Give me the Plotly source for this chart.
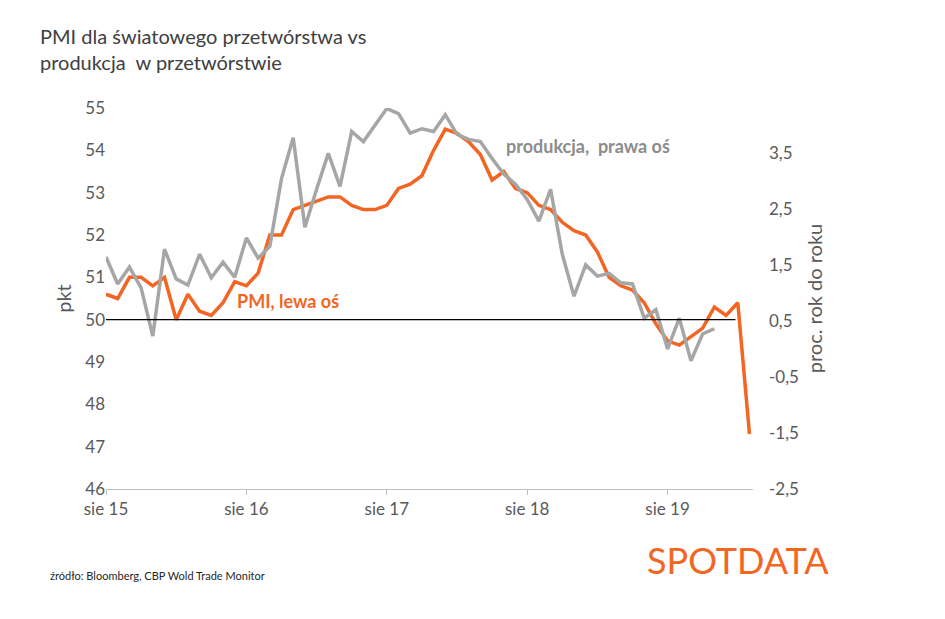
import plotly.graph_objects as go

# PMI (left axis), monthly from Aug 2015
pmi = [50.6, 50.5, 51.0, 51.0, 50.8, 51.0, 50.0, 50.6, 50.2, 50.1,
       50.4, 50.9, 50.8, 51.1, 52.0, 52.0, 52.6, 52.7, 52.8, 52.9,
       52.9, 52.7, 52.6, 52.6, 52.7, 53.1, 53.2, 53.4, 54.0, 54.5,
       54.4, 54.2, 53.9, 53.3, 53.5, 53.1, 53.0, 52.7, 52.6, 52.3,
       52.1, 52.0, 51.6, 51.0, 50.8, 50.7, 50.4, 49.9, 49.5, 49.4,
       49.6, 49.8, 50.3, 50.1, 50.4, 47.3]
# production yoy (right axis)
prod = [1.64, 1.16, 1.46, 1.09, 0.23, 1.78, 1.25, 1.14, 1.69, 1.27,
        1.55, 1.28, 1.98, 1.62, 1.83, 3.04, 3.77, 2.17, 2.85, 3.49,
        2.90, 3.88, 3.70, 4.00, 4.29, 4.20, 3.85, 3.93, 3.88, 4.18,
        3.83, 3.74, 3.70, 3.40, 3.12, 2.94, 2.67, 2.28, 2.85, 1.69,
        0.94, 1.50, 1.30, 1.35, 1.18, 1.16, 0.55, 0.70, 0.00, 0.55,
        -0.21, 0.27, 0.36]
x_ticks = [0, 12, 24, 36, 48]
x_labels = ["sie 15", "sie 16", "sie 17", "sie 18", "sie 19"]
right_ticks = [-2.5, -1.5, -0.5, 0.5, 1.5, 2.5, 3.5]

ORANGE = "#F26522"
GREY = "#A6A6A6"
TXT = "#595959"

fig = go.Figure()
fig.add_trace(go.Scatter(x=list(range(len(prod))), y=prod, yaxis="y2", mode="lines",
                         line=dict(color=GREY, width=3.5), showlegend=False))
fig.add_trace(go.Scatter(x=list(range(len(pmi))), y=pmi, mode="lines",
                         line=dict(color=ORANGE, width=3.5), showlegend=False))

fig.add_shape(type="line", x0=0, x1=53.8, y0=50, y1=50, xref="x", yref="y",
              line=dict(color="black", width=1.2))

fig.update_layout(
    width=945, height=619,
    margin=dict(l=98, r=200, t=100, b=138),
    plot_bgcolor="white", paper_bgcolor="white",
    font=dict(family="Lato", size=17, color=TXT),
    xaxis=dict(range=[0, 55.3], tickvals=x_ticks, ticktext=x_labels,
               showgrid=False, zeroline=False, showline=True, linecolor="#BFBFBF",
               ticks="outside", ticklen=5, tickcolor="#BFBFBF"),
    yaxis=dict(range=[46, 55], dtick=1, showgrid=False, zeroline=False,
               title=dict(text="pkt", standoff=8)),
    yaxis2=dict(range=[-2.5, 4.3], overlaying="y", side="right",
                tickvals=right_ticks,
                ticktext=[str(v).replace(".", ",") for v in right_ticks],
                showgrid=False, zeroline=False, ticklabelstandoff=15,
                title=dict(text="proc. rok do roku", standoff=10)),
)

fig.add_annotation(text="PMI dla światowego przetwórstwa vs<br>produkcja  w przetwórstwie",
                   xref="paper", yref="paper", x=-0.105, y=1.225, xanchor="left", yanchor="top",
                   align="left", showarrow=False, font=dict(size=20, color="#404040"))
fig.add_annotation(text="<b>PMI, lewa oś</b>", x=11, y=50.45, xanchor="left",
                   showarrow=False, font=dict(size=18, color=ORANGE))
fig.add_annotation(text="<b>produkcja,  prawa oś</b>", x=34, y=3.62, yref="y2", xanchor="left",
                   showarrow=False, font=dict(size=18, color="#8C8C8C"))
fig.add_annotation(text="źródło: Bloomberg, CBP Wold Trade Monitor", xref="paper", yref="paper",
                   x=-0.09, y=-0.25, xanchor="left", showarrow=False,
                   font=dict(size=11, color="#262626"))
fig.add_annotation(text="SPOTDATA", xref="paper", yref="paper", x=1.12, y=-0.25,
                   xanchor="right", showarrow=False,
                   font=dict(size=36, color=ORANGE, family="Lato"))

fig.write_html("out.html")
